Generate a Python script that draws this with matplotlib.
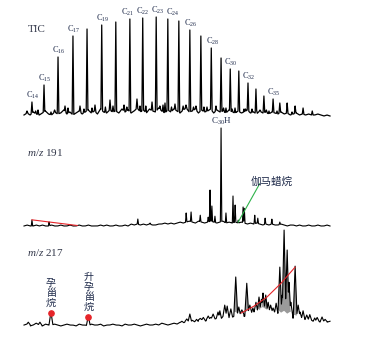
import numpy as np
import matplotlib
matplotlib.use("Agg")
import matplotlib.pyplot as plt

plt.rcParams['font.family'] = ['Liberation Serif', 'Noto Sans CJK SC']
plt.rcParams['mathtext.fontset'] = 'custom'
plt.rcParams['mathtext.rm'] = 'Liberation Serif'
plt.rcParams['mathtext.it'] = 'Liberation Serif:italic'

# ---------------- data (retention time in min, relative intensity) -------------
noise_t = np.arange(10.0, 60.001, 0.5)

# TIC
tic_noise = [1, 3, 1, 4, 2, 1, 3, 5, 2, 1,
             4, 2, 3, 6, 2, 4, 1, 3, 5, 2,
             4, 6, 3, 5, 2, 7, 4, 3, 6, 4,
             5, 3, 7, 4, 6, 3, 5, 8, 4, 6,
             3, 7, 5, 4, 8, 5, 3, 6, 4, 7,
             5, 3, 6, 8, 4, 5, 7, 3, 6, 4,
             5, 7, 3, 6, 4, 5, 3, 6, 4, 3,
             5, 3, 4, 6, 3, 4, 2, 5, 3, 4,
             2, 4, 3, 2, 4, 2, 3, 1, 2, 3,
             1, 2, 1, 2, 1, 1, 2, 1, 0, 1,
             0]
alkane_carbon = list(range(14, 41))
alkane_t = [11.3, 13.27, 15.56, 18.0, 20.3, 22.7, 25.0, 27.3, 29.4, 31.6, 33.5,
            35.3, 37.1, 38.9, 40.6, 42.2, 43.7, 45.1, 46.6, 47.9, 49.2, 50.7,
            51.8, 53.0, 54.3, 55.6, 57.1]
alkane_h = [14, 31, 59, 80, 87, 91, 94, 97, 98, 99, 97, 95, 86, 80, 68, 58, 47,
            45, 33, 27, 20, 17, 13, 13, 10, 8, 5]
labeled_carbon = [14, 15, 16, 17, 19, 21, 22, 23, 24, 26, 28, 30, 32, 35]
label_shift = {21: -0.45, 22: -0.25, 23: 0.05, 24: 0.6}
tic_minor_t = [10.49, 12.29, 14.41, 16.70, 17.19, 19.15, 21.11, 21.6, 24.05,
               24.54, 26.34, 28.46, 28.95, 30.92, 32.71, 33.04, 34.67, 36.47,
               38.1, 39.9, 41.37, 43.0, 44.48, 45.95, 47.25, 48.56, 50.03,
               51.34, 53.79, 11.9, 15.0, 19.8, 23.3, 26.8, 29.9, 32.2, 34.1,
               36.0, 37.7, 39.4, 42.6, 44.0, 46.2, 48.0, 49.6]
tic_minor_h = [5, 6, 4, 10, 8, 10, 8, 11, 16, 10, 11, 17, 10, 14, 11, 13, 12,
               11, 10, 9, 10, 8, 8, 7, 7, 6, 5, 5, 4, 5, 6, 7, 9, 9, 10, 10, 9,
               10, 9, 9, 8, 7, 7, 6, 6]

# m/z 191
m191_noise = [0, 1, 0, 0, 1, 0, 1, 0, 0, 1,
              0, 0, 1, 0, 0, 1, 0, 0, 1, 0,
              0, 1, 0, 0, 0, 1, 0, 1, 0, 0,
              1, 0, 0, 1, 0, 2, 1, 2, 1, 2,
              1, 2, 1, 1, 2, 2, 3, 2, 3, 2,
              3, 4, 3, 4, 5, 4, 3, 5, 4, 3,
              4, 5, 4, 3, 4, 5, 3, 4, 3, 4,
              3, 4, 3, 2, 3, 2, 3, 2, 1, 2,
              1, 2, 1, 1, 2, 1, 0, 1, 1, 0,
              1, 0, 0, 1, 0, 0, 1, 0, 0, 1,
              0]
m191_t = [11.3, 14.1, 28.6, 30.6, 36.5, 37.3, 38.8, 40.1, 40.4, 40.7, 41.2,
          42.2, 43.0, 44.15, 44.5, 45.0, 45.8, 46.0, 47.7, 48.2, 49.4, 50.5, 51.8]
m191_h = [6.1, 4.1, 7.1, 3, 13.3, 14.3, 11, 9, 36.7, 20.4, 10,
          100, 13.3, 30.6, 21.4, 6, 19.4, 18, 11, 8, 8, 7, 4]
hopane_idx = 11          # C30 hopane
gammacerane_idx = 15
trend191_t = [11.3, 18.7]
trend191_y = [6.3, 0.5]
gam_label_xy = (50.5, 45.0)

# m/z 217
m217_noise = [1, 2, 0, 1, 3, 1, 0, 2, 1, 1,
              2, 1, 0, 1, 2, 1, 1, 0, 2, 1,
              1, 0, 2, 1, 1, 2, 0, 1, 1, 2,
              1, 1, 0, 2, 1, 1, 2, 1, 0, 1,
              2, 1, 1, 2, 1, 3, 2, 1, 2, 3,
              2, 4, 3, 5, 3, 6, 4, 5, 7, 5,
              6, 9, 7, 8, 6, 10, 8, 7, 9, 11,
              9, 13, 10, 12, 14, 11, 15, 13, 16, 14,
              12, 15, 11, 13, 10, 12, 9, 11, 8, 7,
              8, 6, 7, 5, 6, 4, 5, 4, 5, 4,
              5]
m217_t = [10.7, 12.6, 14.4, 20.5, 36.6, 37.1, 38.8, 40.1, 40.9, 41.7, 42.8,
          43.2, 44.6, 45.6, 46.4, 47.4, 48.4, 49.05, 49.5, 49.9, 50.7, 51.8,
          52.2, 52.5, 53.0, 53.3, 53.6, 54.3, 55.1, 56.2, 57.5, 58.7,
          35.8, 38.2, 39.3, 42.0, 43.8, 45.1, 46.9, 47.9, 48.8, 50.3, 51.2,
          54.8, 55.6, 56.7, 57.9, 59.2]
m217_h = [4, 4, 14.7, 10.5, 7.4, 12.6, 8, 10.5, 12.6, 14.7, 22,
          21, 51.6, 17, 45, 19, 30.5, 34.7, 32.6, 25, 19, 62,
          32.6, 101, 80, 46, 25, 63, 14.7, 11.6, 8.4, 9.5,
          5, 7, 9, 16, 18, 20, 22, 25, 28, 22, 24,
          22, 16, 12, 9, 7]
pregnane_idx = 2
homopregnane_idx = 3
trend217_t = [45.5, 47.6, 49.7, 52.0, 54.3]
trend217_y = [13.7, 21, 30.5, 45, 62]

# ---------------- helpers ----------------
def build(noise, pk_t, pk_h, hw):
    grid = np.union1d(np.arange(10.0, 60.001, 0.02), pk_t)
    base = np.interp(grid, noise_t, noise)
    y = base.copy()
    for t, top in zip(pk_t, pk_h):
        b = np.interp(t, noise_t, noise)
        frac = 1 - np.abs(grid - t) / hw
        tri = np.where(frac > 0, b + (top - b) * frac, -np.inf)
        y = np.maximum(y, tri)
    return grid, base, y

W, H = 367, 337
fig = plt.figure(figsize=(W / 100, H / 100), dpi=100)
left, width = 24 / W, 306 / W
ax1 = fig.add_axes([left, 1 - 116 / H, width, 100 / H])
ax2 = fig.add_axes([left, 1 - 226 / H, width, 98 / H])
ax3 = fig.add_axes([left, 1 - 326 / H, width, 95 / H])
for ax in (ax1, ax2, ax3):
    ax.set_xlim(10, 60)
    ax.set_ylim(0, 100)
    ax.axis('off')

txt_col = '#1e2a4a'
red = '#e62429'
green = '#2db34a'

# TIC
g, b, y = build(tic_noise, alkane_t + tic_minor_t, alkane_h + tic_minor_h, 0.13)
ax1.plot(g, y, color='black', lw=0.9, clip_on=False)
for c, t, h in zip(alkane_carbon, alkane_t, alkane_h):
    if c in labeled_carbon:
        ax1.text(t + 0.15 + label_shift.get(c, 0.0), h + 1.0,
                 'C$\\mathregular{_{%d}}$' % c, ha='center',
                 va='bottom', fontsize=6.0, color=txt_col)
ax1.text(10.65, 87, 'TIC', ha='left', va='center', fontsize=8, color='#33384a')

# m/z 191
g, b, y = build(m191_noise, m191_t, m191_h, 0.11)
ax2.plot(g, y, color='black', lw=0.8, clip_on=False)
ax2.plot(trend191_t, trend191_y, color=red, lw=0.8)
ax2.plot([m191_t[gammacerane_idx], gam_label_xy[0] - 2.0],
         [m191_h[gammacerane_idx] - 2, gam_label_xy[1] - 2], color=green, lw=0.8)
ax2.text(gam_label_xy[0], gam_label_xy[1], '伽马蜡烷', ha='center', va='center',
         fontsize=7.6, color=txt_col, family=['Noto Sans CJK SC'])
ax2.text(m191_t[hopane_idx] + 0.1, m191_h[hopane_idx] + 1.5, 'C$\\mathregular{_{30}}$H',
         ha='center', va='bottom', fontsize=6.5, color=txt_col)
ax2.text(10.5, 74.5, '$\\mathit{m/z}$ 191', ha='left', va='center', fontsize=8,
         color='#33384a')

# m/z 217
g, b, y = build(m217_noise, m217_t, m217_h, 0.32)
big = [(t, h) for t, h in zip(m217_t, m217_h) if h > 30]
gb, bb, yb = build(m217_noise, [p[0] for p in big], [p[1] for p in big], 0.32)
ax3.fill_between(gb, bb + 4, yb, where=yb > bb + 4, color='#9a9a9a', lw=0)
ax3.plot(g, y, color='black', lw=0.8, clip_on=False)
ax3.plot(trend217_t, trend217_y, color=red, lw=0.8)
for i in (pregnane_idx, homopregnane_idx):
    ax3.plot(m217_t[i], m217_h[i] - 1, 'o', color=red, ms=3.8, zorder=5)
ax3.text(m217_t[pregnane_idx], 34.7, '孕\n甾\n烷', ha='center', va='center',
         fontsize=7.2, linespacing=1.0, color=txt_col, family=['Noto Sans CJK SC'])
ax3.text(m217_t[homopregnane_idx] + 0.1, 35.8, '升\n孕\n甾\n烷', ha='center',
         va='center', fontsize=7.2, linespacing=1.0, color=txt_col,
         family=['Noto Sans CJK SC'])
ax3.text(10.5, 77, '$\\mathit{m/z}$ 217', ha='left', va='center', fontsize=8,
         color='#33384a')

fig.savefig('out.png', dpi=100)
